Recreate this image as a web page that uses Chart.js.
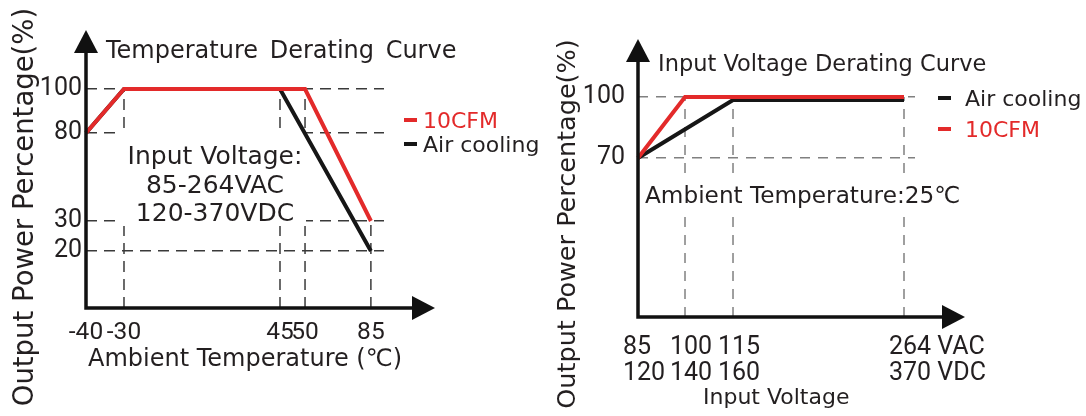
<!DOCTYPE html>
<html lang="en">
<head>
  <meta charset="UTF-8" />
  <title>Derating Curves</title>
  <script src="https://cdn.jsdelivr.net/npm/chart.js"></script>
  <style>
    html, body {
      margin: 0;
      padding: 0;
      background: #fff;
    }

    body {
      position: relative;
      width: 1086px;
      height: 416px;
      overflow: hidden;
      font-family: 'DejaVu Sans', sans-serif;
      color: #231f20;
    }

    .panel {
      position: absolute;
      top: 0;
      width: 543px;
      height: 416px;
    }

    .panel canvas {
      position: absolute;
      left: 0;
      top: 0;
    }

    .t {
      position: absolute;
      white-space: nowrap;
    }

    .ytitle {
      position: absolute;
      left: -197.5px;
      width: 440px;
      line-height: 34px;
      text-align: center;
      white-space: nowrap;
      transform: rotate(-90deg);
    }

    .legend {
      position: absolute;
      font-size: 22px;
    }

    .legend div {
      display: flex;
      align-items: center;
    }

    .legend i {
      display: inline-block;
      width: 13px;
      height: 4px;
    }
  </style>
</head>
<body>
  <div class="panel" style="left: 0;">
    <canvas id="tempChart" width="543" height="416"></canvas>
    <div class="t" style="left: 106px; top: 36px; line-height: 28px; font-size: 24px; word-spacing: 4px;">Temperature Derating Curve</div>
    <div class="t" style="left: 115px; top: 142px; width: 200px; text-align: center; line-height: 28.5px; font-size: 25px;">Input Voltage:<br>85-264VAC<br>120-370VDC</div>
    <div class="t" style="left: 88px; top: 344px; line-height: 28px; font-size: 24px;">Ambient Temperature (℃)</div>
    <div class="ytitle" style="top: 189.5px; font-size: 27.5px;">Output Power Percentage(%)</div>
    <div class="legend" id="tempLegend" style="left: 404px; top: 108px;"></div>
  </div>

  <div class="panel" style="left: 543px;">
    <canvas id="voltChart" width="543" height="416"></canvas>
    <div class="t" style="left: 115px; top: 49px; line-height: 28px; font-size: 22.5px;">Input Voltage Derating Curve</div>
    <div class="t" style="left: 102px; top: 181px; line-height: 28px; font-size: 23.2px;">Ambient Temperature:25℃</div>
    <div class="t" style="left: 160px; top: 383px; line-height: 28px; font-size: 22px;">Input Voltage</div>
    <div class="ytitle" style="top: 207px; font-size: 25.5px;">Output Power Percentage(%)</div>
    <div class="legend" id="voltLegend" style="left: 395px; top: 82.5px;"></div>
  </div>

  <script>
    // temperature derating (left)
    const tempTicks = [-40, -30, 45, 50, 85];
    const tempPowerTicks = [20, 30, 80, 100];
    const tempAir = [-40, -30, 45, 85];
    const tempAirPower = [80, 100, 100, 20];
    const tempCfm = [-40, -30, 50, 85];
    const tempCfmPower = [80, 100, 100, 30];

    // input voltage derating (right), x is VAC, second label row is VDC
    const vacTicks = [85, 100, 115, 264];
    const vacLabels = ['85', '100', '115', '264 VAC'];
    const vdcLabels = ['120', '140', '160', '370 VDC'];
    const voltPowerTicks = [70, 100];
    const voltAir = [85, 115, 264];
    const voltAirPower = [70, 98.5, 98.5];
    const voltCfm = [85, 100, 264];
    const voltCfmPower = [70, 100, 100];

    const red = '#e32a2a';
    const black = '#161616';
    const textColor = '#231f20';

    // the drawing is schematic: each axis is linear between its stops
    class StopScale extends Chart.LinearScale {
      static id = 'stops';
      static defaults = {};

      toDecimal(v) {
        const vs = this.options.stopValues, fs = this.options.stopFractions;
        let i = 1;
        while (i < vs.length - 1 && v > vs[i]) i++;
        return fs[i - 1] + (v - vs[i - 1]) / (vs[i] - vs[i - 1]) * (fs[i] - fs[i - 1]);
      }

      getPixelForValue(v) {
        if (v === null || isNaN(v)) return NaN;
        return this.getPixelForDecimal(this.toDecimal(v));
      }

      getValueForPixel(p) {
        const vs = this.options.stopValues, fs = this.options.stopFractions;
        const d = this.getDecimalForPixel(p);
        let i = 1;
        while (i < fs.length - 1 && d > fs[i]) i++;
        return vs[i - 1] + (d - fs[i - 1]) / (fs[i] - fs[i - 1]) * (vs[i] - vs[i - 1]);
      }
    }
    Chart.register(StopScale);

    const pairs = (xs, ys) => xs.map((x, i) => ({ x, y: ys[i] }));

    function valueAt(data, x) {
      for (let i = 0; i < data.length - 1; i++) {
        const a = data[i], b = data[i + 1];
        if (x >= a.x && x <= b.x) return a.y + (x - a.x) / (b.x - a.x) * (b.y - a.y);
      }
      return null;
    }

    // dashed drop lines, white box behind the note, arrowed axes
    const schematic = {
      id: 'schematic',
      beforeDatasetsDraw(chart, args, o) {
        const { ctx, chartArea: a, scales: { x, y } } = chart;
        ctx.save();
        ctx.strokeStyle = o.gridColor;
        ctx.lineWidth = 1.5;
        ctx.setLineDash(o.dash);
        x.ticks.forEach(t => {
          const px = x.getPixelForValue(t.value);
          if (px <= a.left + 1) return;
          const vals = chart.data.datasets.map(ds => valueAt(ds.data, t.value)).filter(v => v !== null);
          if (!vals.length) return;
          ctx.beginPath();
          ctx.moveTo(px, a.bottom);
          ctx.lineTo(px, y.getPixelForValue(Math.max(...vals)));
          ctx.stroke();
        });
        ctx.fillStyle = '#fff';
        ctx.fillRect(o.mask.x, o.mask.y, o.mask.w, o.mask.h);
        ctx.restore();
      },
      afterDatasetsDraw(chart, args, o) {
        const { ctx, chartArea: a } = chart;
        const tipY = a.top - o.extendTop, tipX = a.right + o.extendRight;
        const h = 23, w = 12;
        ctx.save();
        ctx.strokeStyle = ctx.fillStyle = '#111';
        ctx.lineWidth = 3.5;
        ctx.beginPath();
        ctx.moveTo(a.left, tipY + h);
        ctx.lineTo(a.left, a.bottom);
        ctx.lineTo(tipX - h, a.bottom);
        ctx.stroke();
        ctx.beginPath();
        ctx.moveTo(a.left, tipY);
        ctx.lineTo(a.left - w, tipY + h);
        ctx.lineTo(a.left + w, tipY + h);
        ctx.closePath();
        ctx.fill();
        ctx.beginPath();
        ctx.moveTo(tipX, a.bottom);
        ctx.lineTo(tipX - h, a.bottom - w);
        ctx.lineTo(tipX - h, a.bottom + w);
        ctx.closePath();
        ctx.fill();
        ctx.restore();
      }
    };

    function lineSet(label, data, color, order) {
      return { label, data, borderColor: color, backgroundColor: color, borderWidth: 4,
               pointRadius: 0, tension: 0, clip: false, order };
    }

    function buildLegend(el, chart, order) {
      order.forEach(i => {
        const ds = chart.data.datasets[i];
        const row = document.createElement('div');
        row.style.height = el.dataset.row;
        row.innerHTML = `<i style="background:${ds.borderColor}"></i><span style="margin-left:${el.dataset.gap};color:${ds.borderColor === black ? textColor : ds.borderColor}">${ds.label}</span>`;
        el.appendChild(row);
      });
    }

    const tickFont = { family: 'Roboto', size: 25 };

    const tempChart = new Chart(document.getElementById('tempChart'), {
      type: 'line',
      data: {
        datasets: [
          lineSet('10CFM', pairs(tempCfm, tempCfmPower), red, 0),
          lineSet('Air cooling', pairs(tempAir, tempAirPower), black, 1)
        ]
      },
      options: {
        responsive: false,
        animation: false,
        events: [],
        layout: { padding: { left: 0, top: 89, right: 159, bottom: 0 } },
        plugins: {
          legend: { display: false },
          tooltip: { enabled: false },
          schematic: { gridColor: '#3a3a3a', dash: [11, 7], extendTop: 59, extendRight: 51,
                       mask: { x: 122, y: 131, w: 184, h: 95 } }
        },
        scales: {
          x: {
            type: 'stops', min: -40, max: 92,
            stopValues: [-40, -30, 45, 50, 85, 92],
            stopFractions: [0, 0.1275, 0.651, 0.735, 0.956, 1],
            afterBuildTicks: s => { s.ticks = tempTicks.map(v => ({ value: v })); },
            afterFit: s => { s.height = 108; },
            grid: { display: false },
            border: { display: false },
            ticks: { autoSkip: false, maxRotation: 0, padding: 2, color: textColor,
                     font: { family: 'Roboto', size: 24.5 }, callback: v => String(v) }
          },
          y: {
            type: 'stops', min: 0, max: 100,
            stopValues: [0, 20, 30, 80, 100],
            stopFractions: [0, 0.2603, 0.3973, 0.799, 1],
            afterBuildTicks: s => { s.ticks = tempPowerTicks.map(v => ({ value: v })); },
            afterFit: s => { s.width = 86; },
            grid: { color: '#3a3a3a', lineWidth: 1.5, drawTicks: false },
            border: { display: false, dash: [11, 7] },
            ticks: { padding: 4, color: textColor, font: tickFont, callback: v => String(v) }
          }
        }
      },
      plugins: [schematic]
    });

    const voltChart = new Chart(document.getElementById('voltChart'), {
      type: 'line',
      data: {
        datasets: [
          lineSet('Air cooling', pairs(voltAir, voltAirPower), black, 1),
          lineSet('10CFM', pairs(voltCfm, voltCfmPower), red, 0)
        ]
      },
      options: {
        responsive: false,
        animation: false,
        events: [],
        layout: { padding: { left: 0, top: 97, right: 171, bottom: 0 } },
        plugins: {
          legend: { display: false },
          tooltip: { enabled: false },
          schematic: { gridColor: '#808080', dash: [10, 8], extendTop: 58, extendRight: 50,
                       mask: { x: 98, y: 174, w: 320, h: 42 } }
        },
        scales: {
          x: {
            type: 'stops', min: 85, max: 274,
            stopValues: [85, 100, 115, 264, 274],
            stopFractions: [0, 0.1697, 0.343, 0.9603, 1],
            afterBuildTicks: s => { s.ticks = vacTicks.map(v => ({ value: v })); },
            afterFit: s => { s.height = 99; },
            grid: { display: false },
            border: { display: false },
            ticks: { autoSkip: false, maxRotation: 0, align: 'start', labelOffset: -15, padding: 10,
                     color: textColor, font: { family: 'Roboto', size: 25, lineHeight: 1.02 },
                     callback: (v, i) => [vacLabels[i], vdcLabels[i]] }
          },
          y: {
            type: 'stops', min: 0, max: 100,
            stopValues: [0, 70, 100],
            stopFractions: [0, 0.7227, 1],
            afterBuildTicks: s => { s.ticks = voltPowerTicks.map(v => ({ value: v })); },
            afterFit: s => { s.width = 95; },
            grid: { color: '#808080', lineWidth: 1.5, drawTicks: false },
            border: { display: false, dash: [10, 8] },
            ticks: { padding: 13, color: textColor, font: tickFont, callback: v => String(v) }
          }
        }
      },
      plugins: [schematic]
    });

    const tempLegend = document.getElementById('tempLegend');
    tempLegend.dataset.row = '24px';
    tempLegend.dataset.gap = '6px';
    buildLegend(tempLegend, tempChart, [0, 1]);

    const voltLegend = document.getElementById('voltLegend');
    voltLegend.dataset.row = '31px';
    voltLegend.dataset.gap = '14px';
    buildLegend(voltLegend, voltChart, [0, 1]);
  </script>
</body>
</html>
